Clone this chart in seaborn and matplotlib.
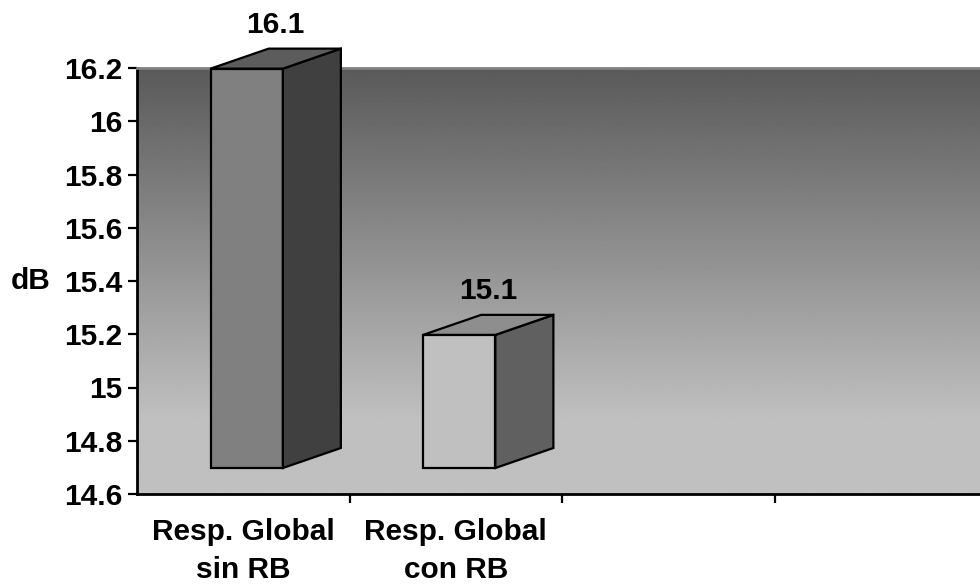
import numpy as np
import pandas as pd
import matplotlib
matplotlib.use("Agg")
import matplotlib.pyplot as plt
import matplotlib.transforms as mtransforms
from matplotlib.patches import Polygon
import seaborn as sns

# --- data -------------------------------------------------------------
categories = ["Resp. Global\nsin RB", "Resp. Global\ncon RB"]
values = [16.1, 15.1]
yticks = [14.6, 14.8, 15.0, 15.2, 15.4, 15.6, 15.8, 16.0, 16.2]
ytick_labels = ["14.6", "14.8", "15", "15.2", "15.4", "15.6", "15.8", "16", "16.2"]
y_axis_label = "dB"

# --- styles -----------------------------------------------------------
front_colors = ["#808080", "#c0c0c0"]
side_colors = ["#404040", "#606060"]
top_colors = ["#5c5c5c", "#8e8e8e"]
FS = 21.5
EDGE_LW = 1.6

sns.set_theme(style="white")
plt.rcParams["font.family"] = ["Liberation Sans", "DejaVu Sans"]
plt.rcParams["font.weight"] = "bold"
plt.rcParams["text.color"] = "black"
plt.rcParams["xtick.labelcolor"] = "black"
plt.rcParams["ytick.labelcolor"] = "black"
plt.rcParams["axes.labelcolor"] = "black"

DPI = 100
W, H = 980, 586
fig = plt.figure(figsize=(W / DPI, H / DPI), dpi=DPI)
ax_left, ax_right, ax_top, ax_bottom = 137, 980, 68, 494
ax = fig.add_axes([ax_left / W, (H - ax_bottom) / H,
                   (ax_right - ax_left) / W, (ax_bottom - ax_top) / H])

df = pd.DataFrame({"cat": categories, "val": values})
sns.barplot(data=df, x="cat", y="val", hue="cat", palette=front_colors,
            width=0.34, saturation=1, legend=False, ax=ax,
            edgecolor="black", linewidth=EDGE_LW)

ymin, ymax = 14.6, 16.2
xmin, xmax = -0.5, 3.467

# back wall: vertical grey gradient
n = 400
rows = np.linspace(0, ax_bottom - ax_top, n)
shade = np.clip(90 + 0.29 * rows, 0, 192).reshape(-1, 1)
ax.imshow(shade, extent=(0, 1, 0, 1), transform=ax.transAxes, aspect="auto",
          cmap="gray", vmin=0, vmax=255, zorder=0, interpolation="bilinear")

ax.set_xlim(xmin, xmax)
ax.set_ylim(ymin, ymax)

# 3-D look: front faces lifted and nudged, depth added as side/top faces
x_per_px = (xmax - xmin) / (ax_right - ax_left)
y_per_px = (ymax - ymin) / (ax_bottom - ax_top)
ddx, ddy = 58 * x_per_px, 20 * y_per_px
front = ax.transData + mtransforms.ScaledTranslation(3.5 / DPI, 26 / DPI, fig.dpi_scale_trans)
label_tr = front + mtransforms.ScaledTranslation(0, 16 / DPI, fig.dpi_scale_trans)

for p, v, sc, tc in zip(ax.patches, values, side_colors, top_colors):
    x0, w = p.get_x(), p.get_width()
    p.set_y(ymin)
    p.set_height(v - ymin)
    p.set_transform(front)
    p.set_clip_on(False)
    p.set_zorder(3)
    side = Polygon([(x0 + w, ymin), (x0 + w + ddx, ymin + ddy),
                    (x0 + w + ddx, v + ddy), (x0 + w, v)], closed=True,
                   transform=front, facecolor=sc, edgecolor="black",
                   linewidth=EDGE_LW, clip_on=False, zorder=3, joinstyle="miter")
    top = Polygon([(x0, v), (x0 + w, v), (x0 + w + ddx, v + ddy),
                   (x0 + ddx, v + ddy)], closed=True,
                  transform=front, facecolor=tc, edgecolor="black",
                  linewidth=EDGE_LW, clip_on=False, zorder=3, joinstyle="miter")
    ax.add_patch(side)
    ax.add_patch(top)
    ax.text(x0 + w / 2 + ddx / 2, v + ddy, str(v), transform=label_tr,
            ha="center", va="baseline", fontsize=FS, fontweight="bold",
            color="black", zorder=4)

# axes, ticks and labels
ax.set_yticks(yticks)
ax.set_yticklabels(ytick_labels, fontsize=FS, fontweight="bold")
ax.set_xticks([0.5, 1.5, 2.5])
ax.set_xticklabels([])
ax.set_xticks([0, 1], minor=True)
ax.set_xticklabels(categories, minor=True, fontsize=FS, fontweight="bold",
                   linespacing=1.45)
ax.tick_params(axis="x", which="minor", length=0, pad=17, bottom=True)
ax.tick_params(axis="x", which="major", length=6.5, width=1.6, direction="out",
               color="black", bottom=True)
ax.tick_params(axis="y", length=6.5, width=1.6, direction="out", color="black",
               pad=4.3, left=True)
ax.set_xlabel("")
ax.set_ylabel(y_axis_label, rotation=0, fontsize=FS, fontweight="bold",
              ha="center", va="center", color="black")
ax.yaxis.set_label_coords(-0.1257, 0.5)

for s in ("left", "bottom"):
    ax.spines[s].set_color("black")
    ax.spines[s].set_linewidth(2.0)
ax.spines["top"].set_color("#808080")
ax.spines["top"].set_linewidth(2.0)
ax.spines["right"].set_visible(False)

fig.savefig("out.png", dpi=DPI, facecolor="white")
